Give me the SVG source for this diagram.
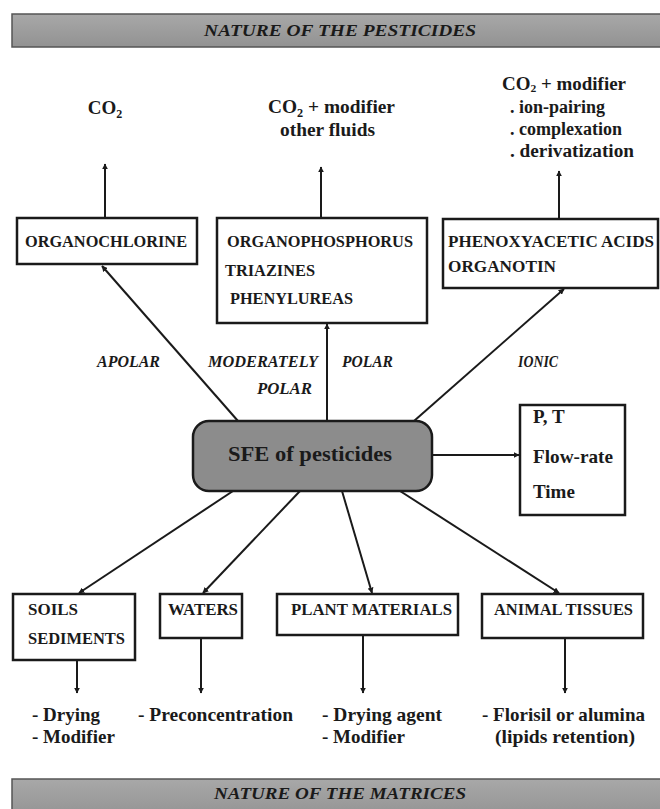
<svg xmlns="http://www.w3.org/2000/svg" width="660" height="809" viewBox="0 0 660 809">
<style>
.t{font-family:"Liberation Serif","Times New Roman",serif;font-weight:bold;fill:#1a1a1a}
.box{fill:#fff;stroke:#1a1a1a;stroke-width:2.5}
.bx{font-size:16px}
.m{font-size:19px}
.s{font-size:18px}
.lab{font-size:16px;font-style:italic}
.ban{fill:url(#g);stroke:#555;stroke-width:1.5}
.bt{font-size:17px;font-style:italic;text-anchor:middle}
.c{stroke:#1a1a1a;stroke-width:2;fill:none}
</style>
<defs>
<linearGradient id="g" x1="0" y1="0" x2="0" y2="1">
<stop offset="0" stop-color="#a8a8a8"/><stop offset="1" stop-color="#929292"/>
</linearGradient>
<marker id="a" viewBox="0 0 10 10" refX="9" refY="5" markerWidth="6" markerHeight="6" orient="auto" markerUnits="userSpaceOnUse">
<path d="M0,0 L10,5 L0,10 z" fill="#1a1a1a"/>
</marker>
</defs>
<rect width="660" height="809" fill="#fff"/>
<g id="banner-top">
<rect class="ban" x="12" y="14" width="660" height="33"/>
<text class="t bt" x="340" y="36" textLength="272" lengthAdjust="spacingAndGlyphs">NATURE OF THE PESTICIDES</text>
</g>
<g id="banner-bottom">
<rect class="ban" x="12" y="779" width="660" height="40"/>
<text class="t bt" x="340" y="799" textLength="252" lengthAdjust="spacingAndGlyphs">NATURE OF THE MATRICES</text>
</g>
<g id="connectors">
<path class="c" d="M105,218 L105,164" marker-end="url(#a)"/>
<path class="c" d="M321,218 L321,167" marker-end="url(#a)"/>
<path class="c" d="M559,219 L559,171" marker-end="url(#a)"/>
<path class="c" d="M238,421 L102,266" marker-end="url(#a)"/>
<path class="c" d="M327,421 L327,324" marker-end="url(#a)"/>
<path class="c" d="M414,421 L564,289" marker-end="url(#a)"/>
<path class="c" d="M432,455 L519,455" marker-end="url(#a)"/>
<path class="c" d="M233,491 L79,593" marker-end="url(#a)"/>
<path class="c" d="M300,491 L203,593" marker-end="url(#a)"/>
<path class="c" d="M342,491 L372,593" marker-end="url(#a)"/>
<path class="c" d="M400,491 L559,593" marker-end="url(#a)"/>
<path class="c" d="M77,660 L77,693" marker-end="url(#a)"/>
<path class="c" d="M201,638 L201,693" marker-end="url(#a)"/>
<path class="c" d="M363,635 L363,693" marker-end="url(#a)"/>
<path class="c" d="M565,638 L565,693" marker-end="url(#a)"/>
</g>
<g id="labels">
<text class="t lab" x="97" y="367" textLength="63" lengthAdjust="spacingAndGlyphs">APOLAR</text>
<text class="t lab" x="208" y="367" textLength="110" lengthAdjust="spacingAndGlyphs">MODERATELY</text>
<text class="t lab" x="257" y="394" textLength="55" lengthAdjust="spacingAndGlyphs">POLAR</text>
<text class="t lab" x="342" y="367" textLength="51" lengthAdjust="spacingAndGlyphs">POLAR</text>
<text class="t lab" x="518" y="367" textLength="40" lengthAdjust="spacingAndGlyphs">IONIC</text>
</g>
<g id="fluid-co2">
<text class="t m" x="105" y="114" text-anchor="middle">CO<tspan font-size="12" dy="4">2</tspan></text>
</g>
<g id="fluid-modifier">
<text class="t m" x="268" y="113" textLength="127" lengthAdjust="spacingAndGlyphs">CO<tspan font-size="12" dy="4">2</tspan><tspan dy="-4"> + modifier</tspan></text>
<text class="t m" x="280" y="136" textLength="95" lengthAdjust="spacingAndGlyphs">other fluids</text>
</g>
<g id="fluid-ionic">
<text class="t s" x="502" y="90" textLength="124" lengthAdjust="spacingAndGlyphs">CO<tspan font-size="11" dy="2">2</tspan><tspan dy="-2"> + modifier</tspan></text>
<text class="t s" x="510" y="113" textLength="95" lengthAdjust="spacingAndGlyphs">. ion-pairing</text>
<text class="t s" x="510" y="135" textLength="112" lengthAdjust="spacingAndGlyphs">. complexation</text>
<text class="t s" x="510" y="157" textLength="124" lengthAdjust="spacingAndGlyphs">. derivatization</text>
</g>
<g id="organochlorine">
<rect class="box" x="17" y="218" width="180" height="46"/>
<text class="t bx" x="25" y="247" textLength="162" lengthAdjust="spacingAndGlyphs">ORGANOCHLORINE</text>
</g>
<g id="organophosphorus">
<rect class="box" x="217" y="218" width="210" height="105"/>
<text class="t bx" x="227" y="247" textLength="186" lengthAdjust="spacingAndGlyphs">ORGANOPHOSPHORUS</text>
<text class="t bx" x="225" y="276" textLength="90" lengthAdjust="spacingAndGlyphs">TRIAZINES</text>
<text class="t bx" x="230" y="304" textLength="123" lengthAdjust="spacingAndGlyphs">PHENYLUREAS</text>
</g>
<g id="phenoxyacetic">
<rect class="box" x="443" y="219" width="215" height="69"/>
<text class="t bx" x="448" y="247" textLength="206" lengthAdjust="spacingAndGlyphs">PHENOXYACETIC ACIDS</text>
<text class="t bx" x="448" y="272" textLength="108" lengthAdjust="spacingAndGlyphs">ORGANOTIN</text>
</g>
<g id="sfe">
<rect x="193" y="421" width="239" height="70" rx="16" fill="#8c8c8c" stroke="#1a1a1a" stroke-width="2.5"/>
<text class="t" x="310" y="461" font-size="22" text-anchor="middle" textLength="164" lengthAdjust="spacingAndGlyphs">SFE of pesticides</text>
</g>
<g id="parameters">
<rect class="box" x="520" y="405" width="105" height="110"/>
<text class="t m" x="533" y="423">P, T</text>
<text class="t m" x="533" y="463" textLength="80" lengthAdjust="spacingAndGlyphs">Flow-rate</text>
<text class="t m" x="533" y="498">Time</text>
</g>
<g id="soils">
<rect class="box" x="13" y="594" width="122" height="66"/>
<text class="t bx" x="28" y="615" textLength="50" lengthAdjust="spacingAndGlyphs">SOILS</text>
<text class="t bx" x="28" y="644" textLength="97" lengthAdjust="spacingAndGlyphs">SEDIMENTS</text>
</g>
<g id="waters">
<rect class="box" x="160" y="594" width="82" height="44"/>
<text class="t bx" x="168" y="615" textLength="70" lengthAdjust="spacingAndGlyphs">WATERS</text>
</g>
<g id="plants">
<rect class="box" x="277" y="594" width="181" height="41"/>
<text class="t bx" x="291" y="615" textLength="161" lengthAdjust="spacingAndGlyphs">PLANT MATERIALS</text>
</g>
<g id="animals">
<rect class="box" x="482" y="594" width="161" height="44"/>
<text class="t bx" x="494" y="615" textLength="139" lengthAdjust="spacingAndGlyphs">ANIMAL TISSUES</text>
</g>
<g id="treatments">
<text class="t m" x="32" y="721">- Drying</text>
<text class="t m" x="32" y="743">- Modifier</text>
<text class="t m" x="138" y="721" textLength="155" lengthAdjust="spacingAndGlyphs">- Preconcentration</text>
<text class="t m" x="322" y="721" textLength="120" lengthAdjust="spacingAndGlyphs">- Drying agent</text>
<text class="t m" x="322" y="743">- Modifier</text>
<text class="t m" x="482" y="721" textLength="163" lengthAdjust="spacingAndGlyphs">- Florisil or alumina</text>
<text class="t m" x="495" y="743" textLength="140" lengthAdjust="spacingAndGlyphs">(lipids retention)</text>
</g>
</svg>
